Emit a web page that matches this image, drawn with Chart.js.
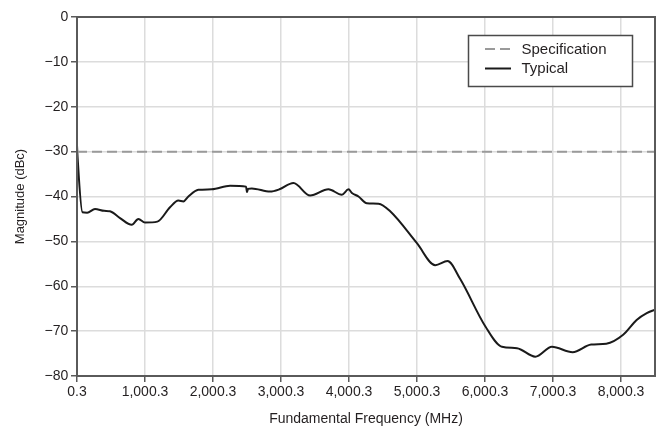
<!DOCTYPE html>
<html>
<head>
<meta charset="utf-8">
<script src="https://cdn.jsdelivr.net/npm/chart.js@4/dist/chart.umd.min.js"></script>
<style>
  html, body { margin: 0; padding: 0; background: #fff; }
  #wrap { width: 663px; height: 430px; }
</style>
</head>
<body>
<div id="wrap"><canvas id="c" width="663" height="430"></canvas></div>
<script>
// ---- data ----
const freqMHz = [0.3, 8, 80, 150, 265, 400, 485, 633, 805, 903, 1000, 1182, 1368, 1491, 1565, 1638, 1785, 1982, 2251, 2487, 2500, 2515, 2571, 2840, 2977, 3183, 3429, 3698, 3895, 3993, 4043, 4140, 4263, 4434, 4606, 4999, 5268, 5449, 5636, 6004, 6250, 6471, 6740, 6985, 7289, 7561, 7784, 8032, 8230, 8379, 8500.3];
const typicalDBc = [-28.6, -31, -43.5, -43.6, -42.8, -43.2, -43.3, -44.8, -46.3, -45.0, -45.8, -45.6, -42.4, -40.9, -41.1, -40.0, -38.5, -38.4, -37.6, -37.8, -39.0, -38.3, -38.2, -38.9, -38.4, -37.0, -39.8, -38.4, -39.6, -38.4, -39.2, -40.0, -41.5, -41.6, -43.3, -50.4, -55.3, -54.4, -58.4, -68.9, -73.5, -73.8, -75.7, -73.5, -74.7, -73.0, -72.8, -70.8, -67.5, -66.0, -65.2];
const specFreqMHz = [0.3, 8500.3];
const specDBc = [-30, -30];
const xTickValues = [0.3, 1000.3, 2000.3, 3000.3, 4000.3, 5000.3, 6000.3, 7000.3, 8000.3];
const xTickLabels = ['0.3', '1,000.3', '2,000.3', '3,000.3', '4,000.3', '5,000.3', '6,000.3', '7,000.3', '8,000.3'];
const yTickValues = [0, -10, -20, -30, -40, -50, -60, -70, -80];
const yTickLabels = ['0', '\u221210', '\u221220', '\u221230', '\u221240', '\u221250', '\u221260', '\u221270', '\u221280'];
const seriesLabels = ['Specification', 'Typical'];

const FONT = '"Liberation Sans", Arial, Helvetica, sans-serif';
const TEXT = '#231f20';
const AXIS = '#5a5a5a';

const boxPlugin = {
  id: 'boxAndLegend',
  afterDraw(chart) {
    const ctx = chart.ctx;
    const a = chart.chartArea;
    ctx.save();
    // plot frame
    ctx.strokeStyle = AXIS;
    ctx.lineWidth = 2;
    ctx.setLineDash([]);
    ctx.strokeRect(a.left, a.top, a.right - a.left, a.bottom - a.top);
    // legend box
    const lx = 468.5, ly = 35.5, lw = 164, lh = 51;
    ctx.fillStyle = '#fff';
    ctx.fillRect(lx, ly, lw, lh);
    ctx.lineWidth = 1.5;
    ctx.strokeStyle = '#4a4a4a';
    ctx.strokeRect(lx, ly, lw, lh);
    const ds = chart.data.datasets;
    const rows = [49, 68.5];
    ds.forEach((d, i) => {
      ctx.beginPath();
      ctx.setLineDash(d.borderDash || []);
      ctx.strokeStyle = d.borderColor;
      ctx.lineWidth = 2;
      ctx.moveTo(485, rows[i]);
      ctx.lineTo(511, rows[i]);
      ctx.stroke();
      ctx.setLineDash([]);
      ctx.fillStyle = TEXT;
      ctx.font = '15px ' + FONT;
      ctx.textAlign = 'left';
      ctx.textBaseline = 'middle';
      ctx.fillText(d.label, 521.5, rows[i] + 0.5);
    });
    ctx.restore();
  }
};

new Chart(document.getElementById('c'), {
  type: 'line',
  data: {
    datasets: [
      {
        label: seriesLabels[0],
        data: specFreqMHz.map((x, i) => ({ x, y: specDBc[i] })),
        borderColor: '#9a9a9a',
        borderWidth: 2,
        borderDash: [10, 5],
        pointRadius: 0,
        tension: 0
      },
      {
        label: seriesLabels[1],
        data: freqMHz.map((x, i) => ({ x, y: typicalDBc[i] })),
        borderColor: '#1a1a1a',
        borderWidth: 2,
        pointRadius: 0,
        cubicInterpolationMode: 'monotone'
      }
    ]
  },
  options: {
    responsive: false,
    animation: false,
    devicePixelRatio: 1,
    layout: { padding: { left: 0, right: 8, top: 17, bottom: 0 } },
    plugins: { legend: { display: false }, tooltip: { enabled: false } },
    scales: {
      x: {
        type: 'linear',
        min: 0.3,
        max: 8500.3,
        afterBuildTicks(scale) { scale.ticks = xTickValues.map(v => ({ value: v })); },
        afterFit(scale) { scale.height = 54; },
        ticks: {
          autoSkip: false,
          maxRotation: 0,
          padding: 2,
          color: TEXT,
          font: { family: FONT, size: 14 },
          callback(value) {
            const i = xTickValues.indexOf(value);
            return i >= 0 ? xTickLabels[i] : '';
          }
        },
        grid: { color: '#dcdcdc', lineWidth: 1.5, tickColor: AXIS, tickLength: 6, tickWidth: 1.5 },
        border: { display: false },
        title: {
          display: true,
          text: 'Fundamental Frequency (MHz)',
          color: TEXT,
          font: { family: FONT, size: 14 },
          padding: { top: 0, bottom: 2.6 }
        }
      },
      y: {
        type: 'linear',
        min: -80,
        max: 0,
        afterBuildTicks(scale) { scale.ticks = yTickValues.map(v => ({ value: v })); },
        afterFit(scale) { scale.width = 77; },
        ticks: {
          padding: 2.7,
          color: TEXT,
          font: { family: FONT, size: 14 },
          callback(value) {
            const i = yTickValues.indexOf(value);
            return i >= 0 ? yTickLabels[i] : '';
          }
        },
        grid: { color: '#dcdcdc', lineWidth: 1.5, tickColor: AXIS, tickLength: 6, tickWidth: 1.5 },
        border: { display: false },
        title: {
          display: true,
          text: 'Magnitude (dBc)',
          color: TEXT,
          font: { family: FONT, size: 13 },
          padding: { top: 12.3, bottom: 0 }
        }
      }
    }
  },
  plugins: [boxPlugin]
});
</script>
</body>
</html>
